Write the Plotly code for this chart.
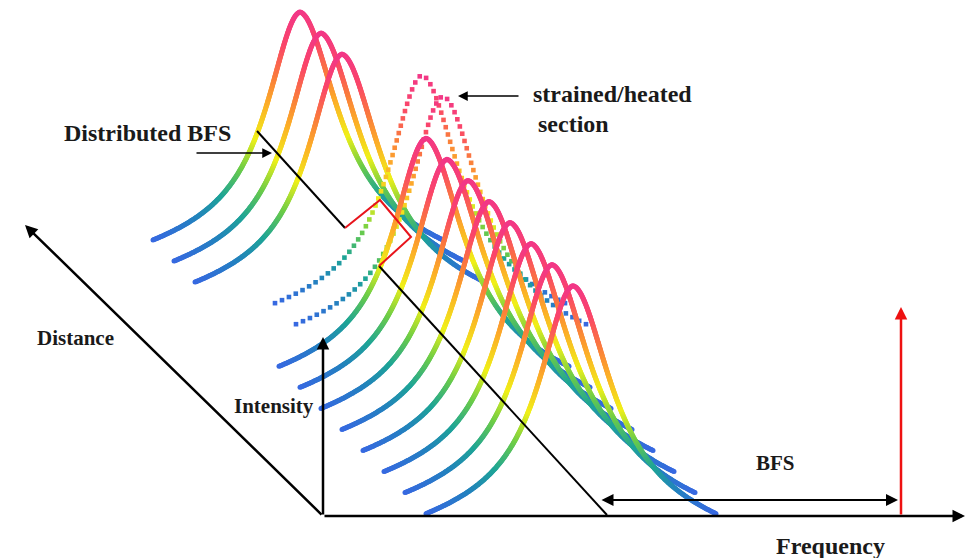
import numpy as np
import plotly.graph_objects as go

# spectra along the fibre: index along the distance axis and extra BFS shift
fibre_pos = [0, 1, 2, 3, 4, 6, 7, 8, 9, 10, 11, 12, 13]
bfs_shift = [0, 0, 0, 59, 59, 0, 0, 0, 0, 0, 0, 0, 0]
strained = [False, False, False, True, True,
            False, False, False, False, False, False, False, False]

# Brillouin gain spectrum shape (picture units)
peak_height = 228
hwhm_left = 40
hwhm_right = 45
span_left = 147
span_right = 143
tent_part = 0.15

# where spectrum 0 starts and how far each next one is moved
first_start = (153, 240)
pos_step = (21.0, 21.05)

# axes of the sketch
origin = (323, 516)
distance_tip = (25, 225)
intensity_tip = (323, 337)
frequency_tip = (965, 516)
pump_x = 901
pump_tip = 307
bfs_arrow = [600, 898]
bfs_arrow_y = 500

# distributed BFS trace (black) and the shifted part (red)
bfs_line_x = [257, 345]
bfs_line_y = [131, 228]
bfs_step_x = [345, 380, 411, 379]
bfs_step_y = [228, 200, 237, 266]
bfs_line2_x = [379, 607]
bfs_line2_y = [266, 515]

colorscale = [
    [0.0, "rgb(55,105,225)"],
    [0.1, "rgb(35,130,190)"],
    [0.2, "rgb(30,165,150)"],
    [0.32, "rgb(110,205,70)"],
    [0.45, "rgb(240,240,25)"],
    [0.6, "rgb(252,175,40)"],
    [0.72, "rgb(250,125,60)"],
    [0.86, "rgb(250,70,105)"],
    [1.0, "rgb(242,55,135)"],
]

# the page keeps an 8px body margin, so the axes start at 8
page_pad = 8


def shape(u):
    w = np.where(u < 0, hwhm_left, hwhm_right)
    span = np.where(u < 0, span_left, span_right)
    lor = 1 / (1 + (u / w) ** 2)
    lor_end = 1 / (1 + (span / w) ** 2)
    lor = (lor - lor_end) / (1 - lor_end)
    tent = 1 - np.abs(u) / span
    return (1 - tent_part) * lor + tent_part * tent


def resample(x, y, spacing):
    d = np.hypot(np.diff(x), np.diff(y))
    s = np.concatenate([[0], np.cumsum(d)])
    n = int(s[-1] / spacing) + 1
    t = np.linspace(0, s[-1], n)
    return np.interp(t, s, x), np.interp(t, s, y)


fig = go.Figure()

for pos, shift, dotted in zip(fibre_pos, bfs_shift, strained):
    x0 = first_start[0] + pos_step[0] * pos + shift
    y0 = first_start[1] + pos_step[1] * pos
    u = np.linspace(-span_left, span_right, 3000)
    xs = x0 + span_left + u
    ys = y0 - peak_height * shape(u)
    if dotted:
        px, py = resample(xs, ys, 7.6)
        marker = dict(size=4.6, symbol="square")
    else:
        px, py = resample(xs, ys, 1.0)
        marker = dict(size=5, symbol="circle")
    marker.update(color=(y0 - py) / peak_height, colorscale=colorscale,
                  cmin=0, cmax=1, line=dict(width=0))
    fig.add_trace(go.Scatter(x=px, y=py, mode="markers", marker=marker,
                             hoverinfo="skip"))

fig.add_trace(go.Scatter(x=bfs_line_x, y=bfs_line_y, mode="lines",
                         line=dict(color="black", width=2)))
fig.add_trace(go.Scatter(x=bfs_line2_x, y=bfs_line2_y, mode="lines",
                         line=dict(color="black", width=2)))
fig.add_trace(go.Scatter(x=bfs_step_x, y=bfs_step_y, mode="lines",
                         line=dict(color="#e8141c", width=2)))


def arrow(tip, tail, color="black", width=2.5, size=1.0, side="end"):
    fig.add_annotation(x=tip[0], y=tip[1], ax=tail[0], ay=tail[1],
                       xref="x", yref="y", axref="x", ayref="y",
                       text="", showarrow=True, arrowhead=2, startarrowhead=2,
                       arrowside=side, arrowsize=size, arrowwidth=width,
                       arrowcolor=color, standoff=0, startstandoff=0)


arrow(distance_tip, origin)
arrow(intensity_tip, origin)
arrow(frequency_tip, origin)
arrow((pump_x, pump_tip), (pump_x, origin[1]), color="#ee1111")
arrow((bfs_arrow[1], bfs_arrow_y), (bfs_arrow[0], bfs_arrow_y), width=2,
      size=1.2, side="end+start")
arrow((272, 153), (195, 153), width=1.5, size=1.3)
arrow((458, 96), (520, 96), width=1.5, size=1.3)

font = "Liberation Serif, Times New Roman, serif"


def label(text, x, y, size):
    fig.add_annotation(x=x, y=y, xref="x", yref="y", text="<b>%s</b>" % text,
                       showarrow=False, xanchor="left", yanchor="middle",
                       font=dict(family=font, size=size, color="#1a1a1a"))


label("Distributed BFS", 62, 133, 24)
label("strained/heated", 531, 94, 24)
label("section", 536, 124, 24)
label("Distance", 35, 338, 21)
label("Intensity", 232, 406, 21)
label("BFS", 754, 463, 21)
label("Frequency", 774, 546, 24)

fig.update_layout(width=977 - page_pad, height=558 - page_pad,
                  margin=dict(l=0, r=0, t=0, b=0),
                  paper_bgcolor="white", plot_bgcolor="white",
                  showlegend=False,
                  xaxis=dict(range=[page_pad, 977], visible=False),
                  yaxis=dict(range=[558, page_pad], visible=False))

fig.write_html("out.html")
